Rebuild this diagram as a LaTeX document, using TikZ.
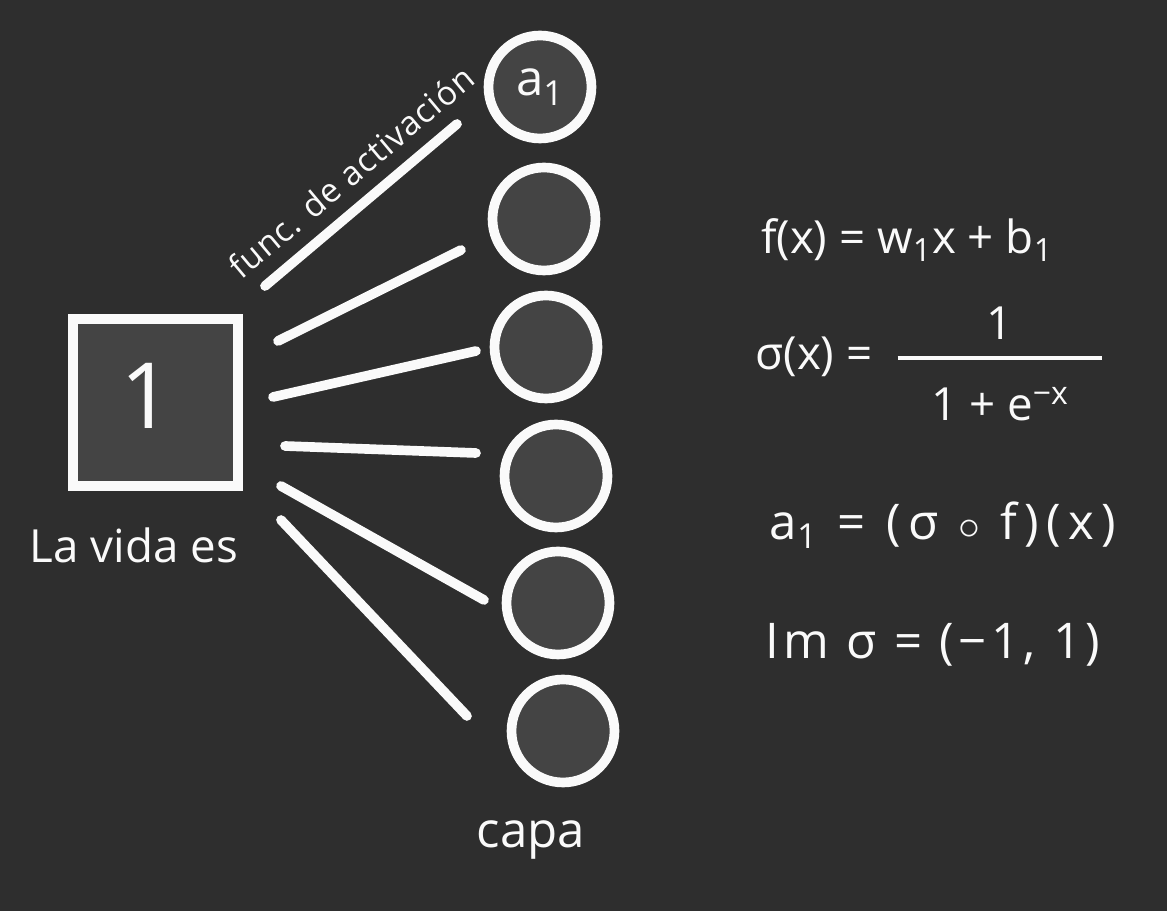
\documentclass[tikz,border=0pt]{standalone}
\usepackage{fontspec}
\setmainfont{Open Sans}
\newcommand*{\chalkfont}{\fontsize{26}{30}\selectfont}
\newcommand*{\widechalk}{\fontsize{28}{32}\selectfont\addfontfeatures{LetterSpace=9}}
\definecolor{board}{RGB}{46,46,46}
\definecolor{cell}{RGB}{68,68,68}
\definecolor{chalk}{RGB}{250,250,250}
\usetikzlibrary{positioning}
\tikzstyle{base}=[x=0.02cm, y=-0.02cm]
\tikzstyle{neuron}=[circle, draw=chalk, fill=cell, line width=5.5pt, minimum size=2.06cm, inner sep=0pt]
\tikzstyle{inbox}=[rectangle, draw=chalk, fill=cell, line width=5.5pt, minimum width=3.3cm, minimum height=3.34cm]
\tikzstyle{wire}=[chalk, line width=5.5pt, line cap=round]
\tikzstyle{chalktext}=[text=chalk, inner sep=0pt, font=\chalkfont]

\begin{document}
\begin{tikzpicture}[base]
    \fill [board] (0,0) rectangle (1167,911);
    \useasboundingbox (0,0) rectangle (1167,911);

    \node [inbox] (inp) at (155.5,402.5) {};
    \node [chalktext, font=\fontsize{52}{56}\selectfont] (one) at (147,396) {1};
    \node [chalktext] (inlabel) at (134,545) {La vida es};

    \node [neuron] (h1) at (540,87) {};
    \node [neuron] (h2) at (544,219) {};
    \node [neuron] (h3) at (546,347) {};
    \node [neuron] (h4) at (556,476) {};
    \node [neuron] (h5) at (558,603) {};
    \node [neuron] (h6) at (563,731) {};
    \node [chalktext, font=\fontsize{28}{32}\selectfont] (a1) at (540,87) {a\textsubscript{1}};
    \node [chalktext, font=\fontsize{28}{32}\selectfont] (layer) at (531,840) {capa};

    \coordinate (s1) at (265,286); \coordinate (e1) at (457,124);
    \coordinate (s2) at (278,341); \coordinate (e2) at (461,250);
    \coordinate (s3) at (273,397); \coordinate (e3) at (476,351);
    \coordinate (s4) at (285,446); \coordinate (e4) at (476,453);
    \coordinate (s5) at (281,486); \coordinate (e5) at (484,600);
    \coordinate (s6) at (281,520); \coordinate (e6) at (467,716);
    \foreach \i in {1,...,6}
        \draw [wire] (s\i) -- (e\i);
    \node [chalktext, font=\fontsize{19}{21}\selectfont\addfontfeatures{LetterSpace=3}, rotate=40] (act) at (351,172) {func. de activación};

    \node [chalktext] (feq) at (907,240) {f(x) = w\textsubscript{1}x + b\textsubscript{1}};
    \node [chalktext] (sigeq) at (814,357) {σ(x) =};
    \node [chalktext, align=center] (frac) at (1000,364) {1\\[-18.6pt]\rule{4.1cm}{2.2pt}\\[4.6pt]1 + e\textsuperscript{−x}};
    \node [chalktext, font=\widechalk\addfontfeatures{LetterSpace=15}] (aeq) at (943,525) {a\textsubscript{1} = (σ $\circ$ f)(x)};
    \node [chalktext, font=\widechalk] (imeq) at (933,645) {Im σ = (−1, 1)};
\end{tikzpicture}
\end{document}
